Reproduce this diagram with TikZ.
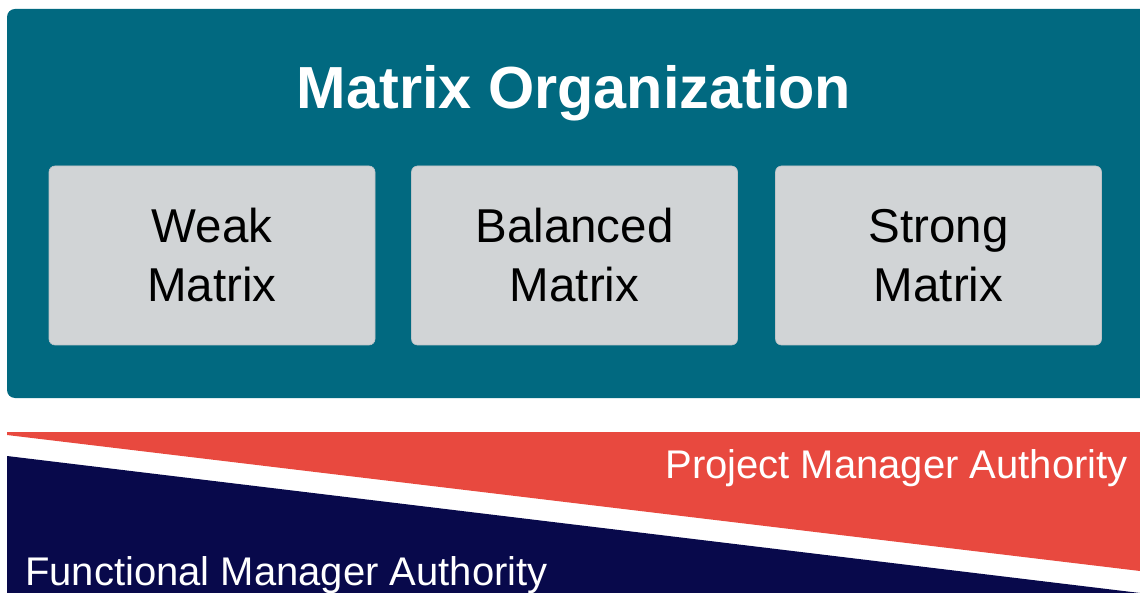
\documentclass[tikz,border=0pt]{standalone}
\usepackage{fontspec}
\setmainfont{Liberation Sans}
\definecolor{mteal}{RGB}{1,105,128}
\definecolor{mgray}{RGB}{209,212,214}
\definecolor{mgrayline}{RGB}{190,196,200}
\definecolor{mred}{RGB}{232,73,63}
\definecolor{mnavy}{RGB}{8,9,75}
\tikzset{
  matbox/.style={fill=mgray, draw=mgrayline, line width=0.6pt, rounded corners=6pt,
    minimum width=326pt, minimum height=179pt, align=center, inner sep=0pt,
    font=\fontsize{47.5}{59}\selectfont, text=black},
  title/.style={font=\fontsize{59.4}{65}\selectfont\bfseries, text=white, inner sep=0pt},
  authlabel/.style={font=\fontsize{40}{45}\selectfont, text=white, inner sep=0pt}
}
\begin{document}
\begin{tikzpicture}[x=1pt,y=-1pt]
\useasboundingbox (0,0) rectangle (1140,593);
% teal panel
\fill[mteal, rounded corners=8pt] (1140,9) -- (7,9) -- (7,398) -- (1140,398);
\node[title, anchor=base] (title) at (574,109) {Matrix Organization};
\node[matbox] (weak) at (212,255.5) {Weak\\Matrix};
\node[matbox] (balanced) at (574.5,255.5) {Balanced\\Matrix};
\node[matbox] (strong) at (938.5,255.5) {Strong\\Matrix};
% authority bands
\fill[mred] (7,432) -- (1140,432) -- (1140,571) -- (7,435) -- cycle;
\fill[mnavy] (7,456) -- (1140,593) -- (7,593) -- cycle;
\node[authlabel, anchor=base east] (pm) at (1128,478) {Project Manager Authority};
\node[authlabel, anchor=base west] (fm) at (25,585) {Functional Manager Authority};
\end{tikzpicture}
\end{document}
